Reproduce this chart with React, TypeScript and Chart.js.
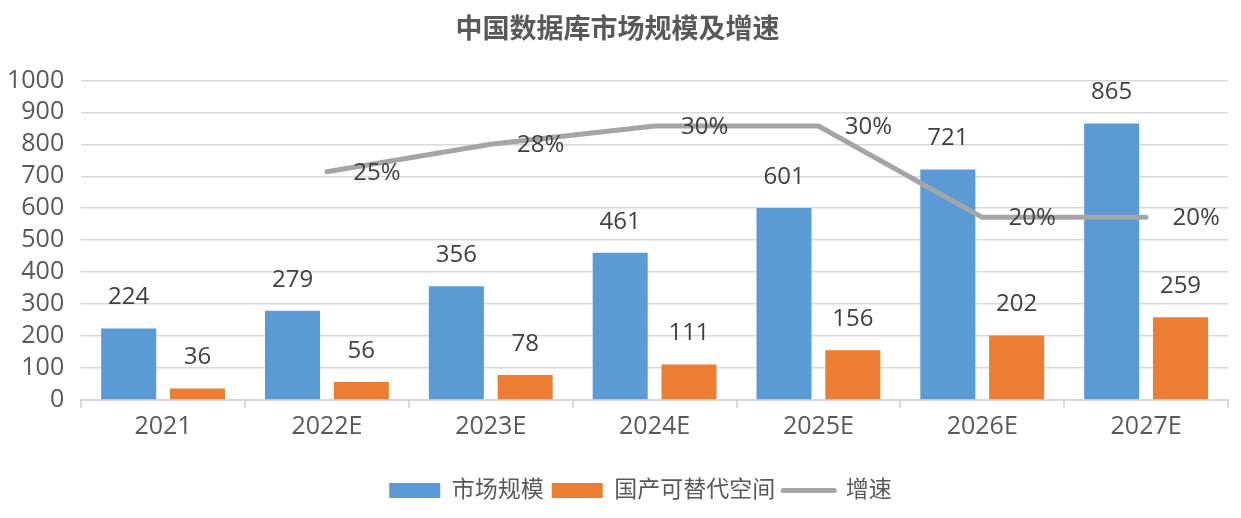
import React, { useEffect, useRef } from "react";
import { Chart, registerables } from "chart.js";

Chart.register(...registerables);

const categories = ["2021", "2022E", "2023E", "2024E", "2025E", "2026E", "2027E"];
const marketSize = [224, 279, 356, 461, 601, 721, 865];
const domesticSpace = [36, 56, 78, 111, 156, 202, 259];
const growthRate = [null, 0.25, 0.28, 0.3, 0.3, 0.2, 0.2];

const FONT = "'Open Sans', 'Noto Sans CJK SC', sans-serif";

const labelPlugin = {
  id: "valueLabels",
  afterDatasetsDraw(chart: any) {
    const ctx = chart.ctx;
    ctx.save();
    ctx.font = `24px ${FONT}`;
    ctx.fillStyle = "#404040";
    ctx.textAlign = "center";
    ctx.textBaseline = "middle";
    chart.data.datasets.forEach((ds: any, di: number) => {
      const meta = chart.getDatasetMeta(di);
      meta.data.forEach((el: any, i: number) => {
        const v = ds.data[i];
        if (v === null || v === undefined) return;
        if (ds.type === "line") {
          ctx.fillText(Math.round(v * 100) + "%", el.x + 50, el.y + 1);
        } else {
          ctx.fillText(String(v), el.x, el.y - 31);
        }
      });
    });
    ctx.restore();
  },
};

const legendShift = {
  id: "legendShift",
  afterLayout(chart: any) {
    if (chart.legend) {
      chart.legend.left += 23;
      chart.legend.right += 23;
    }
  },
};

export default function App() {
  const ref = useRef<HTMLCanvasElement>(null);
  useEffect(() => {
    document.body.style.margin = "0";
    const chart = new Chart(ref.current!, {
      type: "bar",
      data: {
        labels: categories,
        datasets: [
          {
            type: "bar",
            label: "市场规模",
            data: marketSize,
            backgroundColor: "#5B9BD5",
            borderWidth: 0,
            barPercentage: 0.8,
            categoryPercentage: 0.84,
            yAxisID: "y",
            order: 1,
            pointStyle: "rect",
          } as any,
          {
            type: "bar",
            label: "国产可替代空间",
            data: domesticSpace,
            backgroundColor: "#ED7D31",
            borderWidth: 0,
            barPercentage: 0.8,
            categoryPercentage: 0.84,
            yAxisID: "y",
            order: 1,
            pointStyle: "rect",
          } as any,
          {
            type: "line",
            label: "增速",
            data: growthRate,
            borderColor: "#A5A5A5",
            backgroundColor: "#A5A5A5",
            borderWidth: 5,
            borderCapStyle: "round",
            borderJoinStyle: "round",
            pointRadius: 0,
            tension: 0,
            yAxisID: "y2",
            order: 0,
            pointStyle: "line",
          } as any,
        ],
      },
      options: {
        animation: false,
        responsive: true,
        maintainAspectRatio: false,
        layout: { padding: { left: 7, right: 13, top: 0, bottom: 6 } },
        plugins: {
          title: {
            display: true,
            text: "中国数据库市场规模及增速",
            color: "#595959",
            font: { family: FONT, size: 27, weight: "bold" },
            padding: { top: 14, bottom: 34 },
          },
          legend: {
            position: "bottom",
            labels: {
              usePointStyle: true,
              pointStyleWidth: 51,
              boxHeight: 15,
              color: "#595959",
              font: { family: FONT, size: 23 },
              padding: 8,
              sort: (a: any, b: any) => a.datasetIndex - b.datasetIndex,
              generateLabels: (chart: any) => {
                const items = Chart.defaults.plugins.legend.labels.generateLabels(chart);
                return items.map((it: any) => {
                  const ds = chart.data.datasets[it.datasetIndex];
                  if (ds.type === "line") {
                    return { ...it, lineWidth: 5, lineCap: "round", strokeStyle: "#A5A5A5", fillStyle: "#A5A5A5" };
                  }
                  return { ...it, lineWidth: 0, strokeStyle: ds.backgroundColor, fillStyle: ds.backgroundColor };
                });
              },
            },
          },
          tooltip: { enabled: false },
        },
        scales: {
          x: {
            grid: {
              display: true,
              drawOnChartArea: false,
              drawTicks: true,
              tickLength: 8,
              color: "#D9D9D9",
              lineWidth: 2,
            },
            border: { display: true, color: "#D9D9D9", width: 2 },
            ticks: {
              color: "#595959",
              font: { family: FONT, size: 25 },
              padding: 4,
            },
            afterFit: (scale: any) => {
              scale.height += 25;
            },
          },
          y: {
            min: 0,
            max: 1000,
            ticks: {
              stepSize: 100,
              autoSkip: false,
              color: "#595959",
              font: { family: FONT, size: 25 },
              padding: 17,
              callback: (v: any) => String(v),
            },
            afterFit: (scale: any) => {
              scale.width -= 17;
            },
            grid: { color: "#D9D9D9", lineWidth: 1.5, drawTicks: false },
            border: { display: false },
          },
          y2: {
            display: false,
            min: 0,
            max: 0.35,
            position: "right",
            grid: { drawOnChartArea: false },
          },
        },
      } as any,
      plugins: [labelPlugin, legendShift],
    });
    return () => chart.destroy();
  }, []);
  return (
    <div style={{ width: 1241, height: 518, position: "relative" }}>
      <canvas ref={ref} />
    </div>
  );
}
